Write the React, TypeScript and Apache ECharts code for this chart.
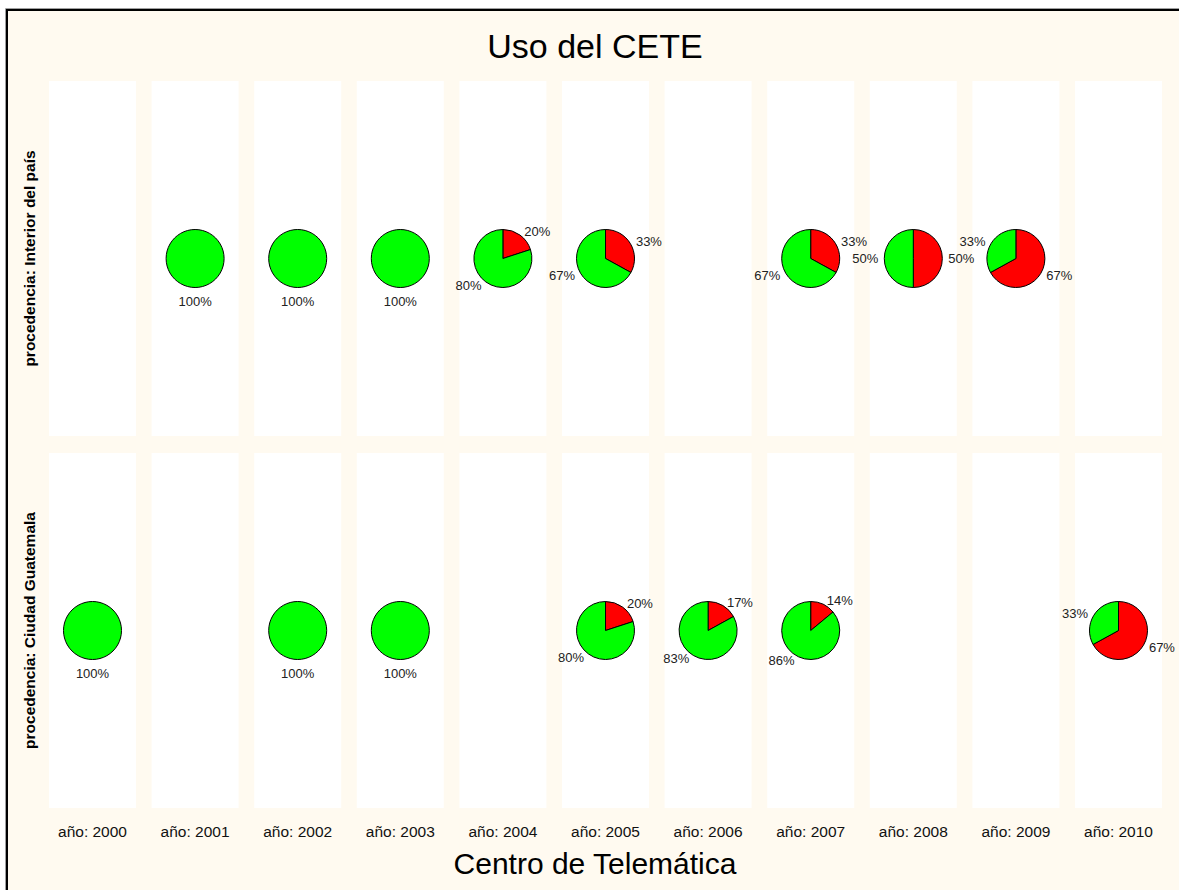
import React, { useEffect, useRef } from "react";
import * as echarts from "echarts";

// ---- data ----
const years = ["2000", "2001", "2002", "2003", "2004", "2005", "2006", "2007", "2008", "2009", "2010"];
const colLabels = years.map((y) => "año: " + y);
const rowNames = ["Interior del país", "Ciudad Guatemala"];
const rowLabels = rowNames.map((r) => "procedencia: " + r);
const sliceNames = ["No", "Sí"]; // red, green

// percentages (null = no pie in that panel)
const interiorRed = [null, 0, 0, 0, 20, 33, null, 33, 50, 67, null];
const interiorGreen = [null, 100, 100, 100, 80, 67, null, 67, 50, 33, null];
const ciudadRed = [0, null, 0, 0, null, 20, 17, 14, null, null, 67];
const ciudadGreen = [100, null, 100, 100, null, 80, 83, 86, null, null, 33];

const redByRow = [interiorRed, ciudadRed];
const greenByRow = [interiorGreen, ciudadGreen];

const titleText = "Uso del CETE";
const xTitleText = "Centro de Telemática";

// ---- layout ----
const FONT = "'Liberation Sans', Arial, sans-serif";
const PANEL_LEFT = 49;
const PANEL_PITCH = 102.6;
const PANEL_W = 87;
const ROW_TOP = [81, 453];
const ROW_H = 355;
const PIE_R = 29;
const RED = "#FF0000";
const GREEN = "#00FF00";

const pctFormatter = (p: any) => Math.round(p.percent) + "%";

export default function App() {
  const ref = useRef<HTMLDivElement>(null);

  useEffect(() => {
    if (!ref.current) return;
    const chart = echarts.init(ref.current, null, { renderer: "svg" });

    const grid: any[] = [];
    const xAxis: any[] = [];
    const yAxis: any[] = [];
    const series: any[] = [];

    for (let r = 0; r < 2; r++) {
      for (let c = 0; c < years.length; c++) {
        const gi = r * years.length + c;
        grid.push({
          left: PANEL_LEFT + c * PANEL_PITCH,
          top: ROW_TOP[r],
          width: PANEL_W,
          height: ROW_H,
          show: true,
          backgroundColor: "#FFFFFF",
          borderWidth: 0,
          z: 1,
        });
        xAxis.push({
          gridIndex: gi,
          type: "category",
          data: [colLabels[c]],
          axisLine: { show: false },
          axisTick: { show: false },
          splitLine: { show: false },
          axisLabel: {
            show: r === 1,
            margin: 15,
            fontSize: 15.5,
            color: "#111",
            fontFamily: FONT,
          },
        });
        yAxis.push({
          gridIndex: gi,
          type: "value",
          min: 0,
          max: 1,
          axisLine: { show: false },
          axisTick: { show: false },
          axisLabel: { show: false },
          splitLine: { show: false },
          name: c === 0 ? rowLabels[r] : "",
          nameLocation: "middle",
          nameRotate: 90,
          nameGap: 12,
          nameTextStyle: {
            fontWeight: "bold",
            fontSize: 15.5,
            color: "#000",
            fontFamily: FONT,
          },
        });

        const red = redByRow[r][c];
        const green = greenByRow[r][c];
        if (red === null || green === null) continue;
        const data: any[] = [];
        if (red > 0) data.push({ name: sliceNames[0], value: red, itemStyle: { color: RED } });
        if (green > 0) data.push({ name: sliceNames[1], value: green, itemStyle: { color: GREEN } });
        const single = data.length === 1;
        series.push({
          type: "pie",
          silent: true,
          z: 5,
          center: [PANEL_LEFT + c * PANEL_PITCH + PANEL_W / 2, ROW_TOP[r] + ROW_H / 2],
          radius: PIE_R,
          startAngle: 90,
          clockwise: true,
          avoidLabelOverlap: false,
          bleedMargin: 0,
          itemStyle: { borderColor: "#000", borderWidth: 1 },
          labelLine: { show: false, length: 4, length2: 0 },
          label: single
            ? {
                position: "center",
                fontSize: 13,
                color: "#222",
                fontFamily: FONT,
                formatter: (p: any) => "{pad| }\n{v|" + pctFormatter(p) + "}",
                rich: {
                  pad: { lineHeight: 86, fontSize: 13 },
                  v: { lineHeight: 15, fontSize: 13, color: "#222", fontFamily: FONT },
                },
              }
            : {
                position: "outside",
                distanceToLabelLine: 2,
                fontSize: 13,
                color: "#222",
                fontFamily: FONT,
                formatter: pctFormatter,
              },
          emphasis: { disabled: true },
          data,
        });
      }
    }

    chart.setOption({
      animation: false,
      backgroundColor: "#FFFFFF",
      graphic: [
        {
          type: "rect",
          z: -10,
          shape: { x: 7, y: 10, width: 1200, height: 900 },
          style: { fill: "#FFFAF0" },
        },
        {
          type: "polyline",
          z: -9,
          shape: { points: [[5.5, 900], [5.5, 8.5], [1200, 8.5]] },
          style: { fill: "none", stroke: "#A0A0A0", lineWidth: 1 },
        },
        {
          type: "polyline",
          z: -8,
          shape: { points: [[7, 900], [7, 10], [1200, 10]] },
          style: { fill: "none", stroke: "#000", lineWidth: 2 },
        },
        {
          type: "text",
          z: 10,
          x: 595,
          y: 46,
          style: {
            text: titleText,
            fontSize: 34,
            fontFamily: FONT,
            fill: "#000",
            textAlign: "center",
            textVerticalAlign: "middle",
          },
        },
        {
          type: "text",
          z: 10,
          x: 595,
          y: 863,
          style: {
            text: xTitleText,
            fontSize: 30,
            fontFamily: FONT,
            fill: "#000",
            textAlign: "center",
            textVerticalAlign: "middle",
          },
        },
      ],
      grid,
      xAxis,
      yAxis,
      series,
    });

    return () => chart.dispose();
  }, []);

  return (
    <div
      ref={ref}
      style={{ position: "absolute", left: 0, top: 0, width: 1179, height: 890 }}
    />
  );
}
